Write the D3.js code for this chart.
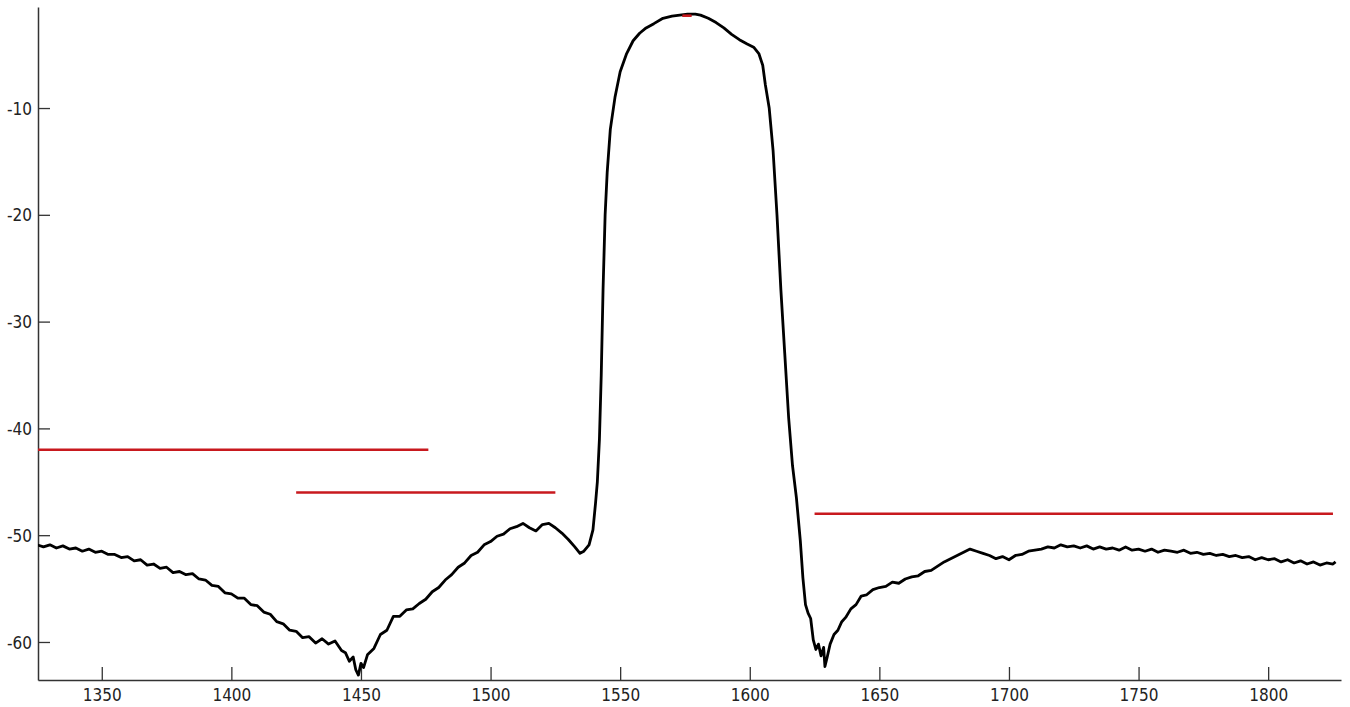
<!DOCTYPE html>
<html>
<head>
<meta charset="utf-8">
<script src="https://cdn.jsdelivr.net/npm/d3@7"></script>
<style>
  html, body { margin: 0; padding: 0; background: #fff; }
  svg { display: block; }
  .tick-label { font-family: "Liberation Sans Narrow", "DejaVu Sans Condensed", "Liberation Sans", Arial, sans-serif; font-size: 17px; fill: #222; }
</style>
</head>
<body>
<svg id="chart" width="1350" height="707"></svg>
<script>
// ---- data ----
const wavelength = [
  1325,1327.5,1330,1332.5,1335,1337.5,1340,1342.5,1345,1347.5,1350,1352.5,1355,1357.5,1360,1362.5,1365,1367.5,1370,1372.5,
  1375,1377.5,1380,1382.5,1385,1387.5,1390,1392.5,1395,1397.5,1400,1402.5,1405,1407.5,1410,1412.5,1415,1417.5,1420,1422.5,
  1425,1427.5,1430,1432.5,1435,1437.5,1440,1442.5,1444,1445.5,1447,1448,1449,1450,1451,1452.5,1455,1457.5,1460,1462.5,
  1465,1467.5,1470,1472.5,1475,1477.5,1480,1482.5,1485,1487.5,1490,1492.5,1495,1497.5,1500,1502.5,1505,1507.5,1510,1512.5,
  1515,1517.5,1520,1522.5,1525,1527.5,1530,1532.5,1534.5,1536,1538,1539.5,1540.5,1541.2,1542,1542.7,1543.4,1544.2,1545,1546.2,
  1548,1550,1552.5,1555,1557.5,1560,1563,1566.5,1570,1573,1576,1579,1581,1584,1587,1590,1593,1596,1599,1601.5,
  1603.5,1605,1606,1607.5,1609,1610.5,1612,1613.5,1615,1616.5,1618,1619.5,1620.5,1621.5,1622.5,1623.5,1624.5,1625.5,1626.5,1627.5,
  1628.5,1629,1629.8,1631,1632.5,1634,1635.5,1637,1639,1641,1643,1645,1647.5,1650,1652.5,1655,1657.5,1660,1662.5,1665,
  1667.5,1670,1672.5,1675,1677.5,1680,1682.5,1685,1687.5,1690,1692.5,1695,1697.5,1700,1702.5,1705,1707.5,1710,1712.5,1715,
  1717.5,1720,1722.5,1725,1727.5,1730,1732.5,1735,1737.5,1740,1742.5,1745,1747.5,1750,1752.5,1755,1757.5,1760,1762.5,1765,
  1767.5,1770,1772.5,1775,1777.5,1780,1782.5,1785,1787.5,1790,1792.5,1795,1797.5,1800,1802.5,1805,1807.5,1810,1812.5,1815,
  1817.5,1820,1822.5,1825,1826
];
const power = [
  -50.9,-51.1,-50.9,-51.2,-51.0,-51.3,-51.2,-51.5,-51.3,-51.6,-51.5,-51.8,-51.8,-52.1,-52.0,-52.4,-52.3,-52.8,-52.7,-53.1,
  -53.0,-53.5,-53.4,-53.7,-53.6,-54.1,-54.2,-54.7,-54.8,-55.4,-55.5,-55.9,-55.9,-56.5,-56.6,-57.2,-57.4,-58.1,-58.3,-58.9,
  -59.0,-59.6,-59.5,-60.1,-59.7,-60.2,-59.9,-60.8,-61.0,-61.8,-61.4,-62.6,-63.1,-62.0,-62.4,-61.2,-60.6,-59.3,-58.9,-57.6,
  -57.6,-57.0,-56.9,-56.4,-56.0,-55.3,-54.9,-54.2,-53.7,-53.0,-52.6,-51.9,-51.6,-50.9,-50.6,-50.1,-49.9,-49.4,-49.2,-48.9,
  -49.3,-49.6,-49.0,-48.9,-49.3,-49.8,-50.4,-51.1,-51.7,-51.5,-50.9,-49.5,-47.0,-45.0,-41.0,-35.0,-27.0,-20.0,-16.0,-12.0,
  -9.0,-6.6,-4.9,-3.7,-3.0,-2.5,-2.1,-1.6,-1.4,-1.3,-1.2,-1.2,-1.3,-1.6,-2.0,-2.5,-3.1,-3.6,-4.0,-4.3,
  -4.9,-6.0,-7.8,-10.0,-14.0,-20.0,-27.0,-33.0,-39.0,-43.5,-46.5,-50.5,-54.0,-56.5,-57.3,-57.8,-59.8,-60.7,-60.2,-61.3,
  -60.5,-62.3,-61.5,-60.2,-59.3,-58.9,-58.1,-57.7,-56.9,-56.5,-55.7,-55.6,-55.1,-54.9,-54.8,-54.4,-54.5,-54.1,-53.9,-53.8,
  -53.4,-53.3,-52.9,-52.5,-52.2,-51.9,-51.6,-51.3,-51.5,-51.7,-51.9,-52.2,-52.0,-52.3,-51.9,-51.8,-51.5,-51.4,-51.3,-51.1,
  -51.2,-50.9,-51.1,-51.0,-51.2,-51.0,-51.3,-51.1,-51.3,-51.2,-51.4,-51.1,-51.4,-51.3,-51.5,-51.3,-51.6,-51.4,-51.5,-51.6,
  -51.4,-51.7,-51.6,-51.8,-51.7,-51.9,-51.8,-52.0,-51.9,-52.1,-52.0,-52.3,-52.1,-52.3,-52.2,-52.5,-52.3,-52.6,-52.4,-52.7,
  -52.5,-52.8,-52.6,-52.7,-52.5
];
// red limit lines: [start, end, level]
const limitStart = [1325, 1425, 1625, 1574];
const limitEnd   = [1476, 1525, 1825, 1577.5];
const limitLevel = [-42, -46, -48, -1.35];
const xTicks = [1350, 1400, 1450, 1500, 1550, 1600, 1650, 1700, 1750, 1800];
const yTicks = [-60, -50, -40, -30, -20, -10];
const xDomain = [1325.4, 1828.1];
const yDomain = [-63.56, -0.54];

// ---- layout ----
const L = 38, R = 1341, T = 7, B = 680;
const svg = d3.select("#chart");
const x = d3.scaleLinear().domain(xDomain).range([L, R]);
const y = d3.scaleLinear().domain(yDomain).range([B, T]);
const fmt = d => String(d);

svg.append("defs").append("clipPath").attr("id", "plot")
  .append("rect").attr("x", L).attr("y", T).attr("width", R - L).attr("height", B - T);

// axes
const xAxis = d3.axisBottom(x).tickValues(xTicks).tickFormat(fmt)
  .tickSizeInner(-13).tickSizeOuter(0).tickPadding(0);
const gx = svg.append("g").attr("transform", `translate(0,${B})`).call(xAxis);
gx.select(".domain").attr("stroke", "#333").attr("stroke-width", 1.5);
gx.selectAll(".tick line").attr("stroke", "#333").attr("stroke-width", 1.3);
gx.selectAll(".tick text").attr("class", "tick-label").attr("y", 21).attr("dy", null);

const yAxis = d3.axisLeft(y).tickValues(yTicks).tickFormat(fmt)
  .tickSizeInner(-12).tickSizeOuter(0).tickPadding(0);
const gy = svg.append("g").attr("transform", `translate(${L},0)`).call(yAxis);
gy.select(".domain").attr("stroke", "#333").attr("stroke-width", 1.5);
gy.selectAll(".tick line").attr("stroke", "#333").attr("stroke-width", 1.3);
gy.selectAll(".tick text").attr("class", "tick-label").attr("x", -6).attr("dy", "0.36em");
gx.attr("font-family", null).attr("font-size", null);
gy.attr("font-family", null).attr("font-size", null);

const plot = svg.append("g").attr("clip-path", "url(#plot)");

// red limit lines
const limits = limitStart.map((s, i) => ({ s, e: limitEnd[i], v: limitLevel[i] }));
plot.selectAll("line.limit").data(limits).enter().append("line")
  .attr("class", "limit")
  .attr("x1", d => x(d.s)).attr("x2", d => x(d.e))
  .attr("y1", d => y(d.v)).attr("y2", d => y(d.v))
  .attr("stroke", "#c8191e").attr("stroke-width", 2.5);

// spectrum
const pts = wavelength.map((w, i) => [w, power[i]]);
const line = d3.line().x(d => x(d[0])).y(d => y(d[1]));
plot.append("path").datum(pts)
  .attr("d", line)
  .attr("fill", "none")
  .attr("stroke", "#000")
  .attr("stroke-width", 2.8)
  .attr("stroke-linejoin", "round");
// redraw top marker above the curve
plot.append("line").datum(limits[3])
  .attr("x1", d => x(d.s)).attr("x2", d => x(d.e))
  .attr("y1", d => y(d.v)).attr("y2", d => y(d.v))
  .attr("stroke", "#c8191e").attr("stroke-width", 2.5);
</script>
</body>
</html>
